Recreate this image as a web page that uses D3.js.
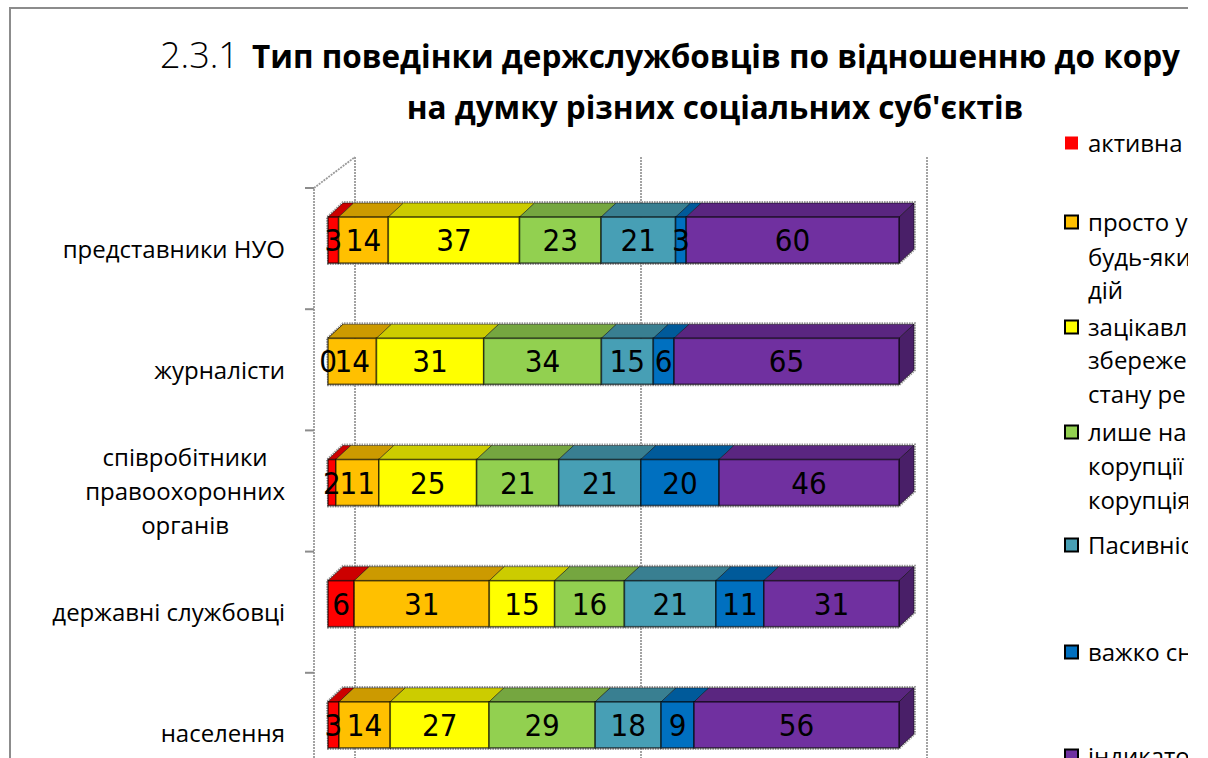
<!DOCTYPE html>
<html><head><meta charset="utf-8">
<script src="https://cdn.jsdelivr.net/npm/d3@7"></script>
<style>body{margin:0;background:#fff} svg{display:block}</style>
</head><body><svg id="c" width="1208" height="758"></svg>
<script>
// ---- data ----
const categories = ["представники НУО", "журналісти", "співробітники\nправоохоронних\nорганів", "державні службовці", "населення"];
const seriesKeys = ["s1", "s2", "s3", "s4", "s5", "s6", "s7"];
const legendLabels = [["активна"], ["просто у", "будь-яки", "дій"], ["зацікавл", "збереже", "стану ре"], ["лише на", "корупції", "корупція"], ["Пасивніс"], ["важко сн"], ["індикато"]];
const aktyvna    = [3, 0, 2, 6, 3];
const prostoUnyk = [14, 14, 11, 31, 14];
const zatsikavl  = [37, 31, 25, 15, 27];
const lysheNa    = [23, 34, 21, 16, 29];
const pasyvnist  = [21, 15, 21, 21, 18];
const vazhko     = [3, 6, 20, 11, 9];
const indykator  = [60, 65, 46, 31, 56];
const seriesValues = [aktyvna, prostoUnyk, zatsikavl, lysheNa, pasyvnist, vazhko, indykator];
const colors = ["#FF0000", "#FFC000", "#FFFF00", "#92D050", "#479FB5", "#0070C0", "#7030A0"];
const gridTicks = [0, 0.5, 1];
const titleNum = "2.3.1";
const titleLine1 = "Тип поведінки держслужбовців по відношенню до кору";
const titleLine2 = "на думку різних соціальних суб'єктів";

// ---- build table ----
const table = categories.map((c, i) => {
  const o = {cat: c};
  seriesKeys.forEach((k, j) => o[k] = seriesValues[j][i]);
  return o;
});
const stacked = d3.stack().keys(seriesKeys).offset(d3.stackOffsetExpand)(table);

const svg = d3.select("#c");
svg.append("defs").append("clipPath").attr("id", "clip")
  .append("rect").attr("x", 0).attr("y", 0).attr("width", 1188).attr("height", 758);
const root = svg.append("g").attr("clip-path", "url(#clip)");

// frame
root.append("path").attr("d", "M10,758 L10,8 L1188,8")
  .attr("fill", "none").attr("stroke", "#8c8c8c").attr("stroke-width", 2);

// scales
const y = d3.scaleBand().domain(categories).range([188, 188 + 5 * 121.2]);
const x = d3.scaleLinear().domain([0, 1]).range([328, 899]);
const xBack = d3.scaleLinear().domain([0, 1]).range([355, 927]);
const DX = 15, DY = -14, BAR_H = 46;
const LEFT_X = 314, BACK_TOP = 157;

// walls / gridlines
const grid = root.append("g").attr("fill", "none").attr("stroke", "#9a9a9a").attr("stroke-width", 1.8).attr("stroke-dasharray", "2,1");
gridTicks.forEach(t => {
  grid.append("line").attr("x1", xBack(t)).attr("x2", xBack(t)).attr("y1", BACK_TOP).attr("y2", 758);
});
grid.append("path").attr("d", `M${LEFT_X},758 L${LEFT_X},${y.range()[0]} L${xBack(0)},${BACK_TOP}`);
// category ticks
const tickVals = d3.range(categories.length).map(i => y.range()[0] + i * y.step());
root.append("g").selectAll("line").data(tickVals).join("line")
  .attr("x1", 305).attr("x2", LEFT_X).attr("y1", d => d).attr("y2", d => d)
  .attr("stroke", "#8c8c8c").attr("stroke-width", 2);

// category labels
const catG = root.append("g").attr("font-family", "'Open Sans', sans-serif").attr("font-size", 24).attr("fill", "#000");
categories.forEach(c => {
  const lines = c.split("\n");
  const cy = y(c) + y.bandwidth() / 2;
  const lh = 34;
  const g = catG.append("g");
  const texts = lines.map((l, i) => g.append("text").attr("text-anchor", "middle")
    .attr("y", cy + (i - (lines.length - 1) / 2) * lh + 9).text(l));
  const w = d3.max(texts, t => t.node().getComputedTextLength());
  texts.forEach(t => t.attr("x", 285 - w / 2));
});

// bars
const shade = (c, k) => { const r = d3.rgb(c); return d3.rgb(r.r * k, r.g * k, r.b * k).formatHex(); };
const barsG = root.append("g");
categories.forEach((c, i) => {
  const yt = y(c) + y.bandwidth() / 2 - 8.5 - BAR_H / 2;
  const yb = yt + BAR_H;
  const g = barsG.append("g");
  const xl = x(0), xr = x(1);
  g.append("path").attr("d", `M${xl},${yb + 1} L${xl - 1},${yt} L${xl + DX},${yt + DY - 1} L${xr + DX + 1},${yt + DY - 1} L${xr + DX + 1},${yb + DY} L${xr},${yb + 1} Z`)
    .attr("fill", "none").attr("stroke", "#9a9a9a").attr("stroke-width", 2).attr("stroke-dasharray", "1.5,1");
  stacked.forEach((s, j) => {
    const x0 = x(s[i][0]), x1 = x(s[i][1]);
    g.append("path").attr("d", `M${x0},${yt} L${x1},${yt} L${x1 + DX},${yt + DY} L${x0 + DX},${yt + DY} Z`)
      .attr("fill", shade(colors[j], 0.8)).attr("stroke", "rgba(0,0,0,0.45)").attr("stroke-width", 1);
  });
  const last = stacked[stacked.length - 1];
  const lx = x(last[i][1]);
  g.append("path").attr("d", `M${lx},${yt} L${lx + DX},${yt + DY} L${lx + DX},${yb + DY} L${lx},${yb} Z`)
    .attr("fill", shade(colors[colors.length - 1], 0.65)).attr("stroke", "rgba(0,0,0,0.5)").attr("stroke-width", 1);
  stacked.forEach((s, j) => {
    const x0 = x(s[i][0]), x1 = x(s[i][1]);
    g.append("rect").attr("x", x0).attr("y", yt).attr("width", Math.max(0, x1 - x0)).attr("height", BAR_H)
      .attr("fill", colors[j]).attr("stroke", "rgba(0,0,0,0.6)").attr("stroke-width", 1.6);
  });
  stacked.forEach((s, j) => {
    const x0 = x(s[i][0]), x1 = x(s[i][1]);
    g.append("text").attr("x", (x0 + x1) / 2).attr("y", (yt + yb) / 2 + 11)
      .attr("text-anchor", "middle")
      .attr("font-family", "'Liberation Sans Narrow', 'DejaVu Sans Condensed', sans-serif")
      .attr("font-stretch", "condensed")
      .attr("font-size", 31).attr("fill", "#000")
      .text(seriesValues[j][i]);
  });
});

// title
const t1 = root.append("text").attr("y", 68).attr("font-family", "'Open Sans', sans-serif").attr("fill", "#000");
t1.append("tspan").attr("x", 160).attr("font-size", 36).attr("font-weight", 300).text(titleNum);
t1.append("tspan").attr("x", 252).attr("font-size", 31.5).attr("font-weight", 700).text(titleLine1);
root.append("text").attr("x", 715).attr("y", 119).attr("text-anchor", "middle")
  .attr("font-family", "'Open Sans', sans-serif").attr("font-size", 31.5).attr("font-weight", 700).text(titleLine2);

// legend
const legendY = [[143], [222, 257, 290], [327, 360, 394], [432, 466, 500], [545], [652], [756]];
const lg = root.append("g").attr("font-family", "'Open Sans', sans-serif").attr("font-size", 24);
legendLabels.forEach((lines, j) => {
  const cy = legendY[j][0];
  lg.append("rect").attr("x", 1065).attr("y", cy - 6.5).attr("width", 13).attr("height", 13)
    .attr("fill", colors[j]).attr("stroke", j === 0 ? "none" : "#000").attr("stroke-width", 2);
  lines.forEach((l, k) => {
    lg.append("text").attr("x", 1088).attr("y", legendY[j][k] + 9).text(l);
  });
});
</script></body></html>
